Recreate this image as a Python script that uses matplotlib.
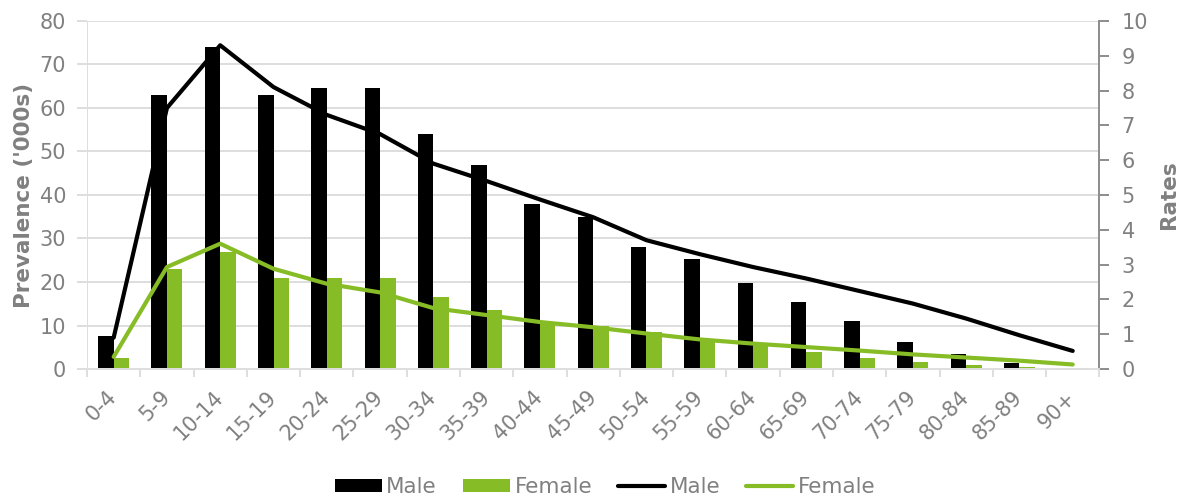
import matplotlib.pyplot as plt
import numpy as np

age_groups = ["0-4", "5-9", "10-14", "15-19", "20-24", "25-29", "30-34", "35-39",
              "40-44", "45-49", "50-54", "55-59", "60-64", "65-69", "70-74",
              "75-79", "80-84", "85-89", "90+"]

# prevalence ('000s)
male_prev = [7.5, 63, 74, 63, 64.5, 64.5, 54, 47, 38, 35, 28, 25.2, 19.8, 15.3,
             11, 6.2, 3.4, 1.4, 0.3]
female_prev = [2.5, 23, 27, 21, 21, 21, 16.5, 13.5, 10.5, 10, 8.5, 7, 6, 3.9,
               2.5, 1.6, 1.0, 0.5, 0.3]

# rates
male_rate = [0.9, 7.5, 9.3, 8.1, 7.3, 6.75, 5.9, 5.4, 4.87, 4.36, 3.7, 3.3,
             2.93, 2.6, 2.24, 1.88, 1.45, 0.97, 0.52]
female_rate = [0.35, 2.93, 3.6, 2.88, 2.45, 2.2, 1.75, 1.55, 1.35, 1.2, 1.02,
               0.85, 0.73, 0.63, 0.53, 0.42, 0.33, 0.24, 0.13]

black = "#000000"
green = "#86bc25"
grey = "#808080"
light = "#dedede"

fig = plt.figure(figsize=(11.84, 4.98), dpi=100)
ax = fig.add_axes([0.0735, 0.259, 0.855, 0.699])
ax2 = ax.twinx()

x = np.arange(len(age_groups))
w = 0.29
ax.bar(x - w / 2, male_prev, w, color=black, label="Male", zorder=2)
ax.bar(x + w / 2, female_prev, w, color=green, label="Female", zorder=2)
ax2.plot(x, male_rate, color=black, lw=3.0, label="Male", solid_capstyle="round")
ax2.plot(x, female_rate, color=green, lw=3.0, label="Female", solid_capstyle="round")

ax.set_xlim(-0.5, len(age_groups) - 0.5)
ax.set_ylim(0, 80)
ax2.set_ylim(0, 10)
ax.set_yticks(range(0, 81, 10))
ax2.set_yticks(range(0, 11, 1))

ax.yaxis.grid(True, color=light, lw=1.4, zorder=0)
ax.set_axisbelow(True)

# x axis: ticks on category boundaries, labels at centres
ax.set_xticks(x)
ax.set_xticklabels(age_groups, rotation=45, ha="right", va="center",
                   rotation_mode="anchor")
ax.set_xticks(np.arange(-0.5, len(age_groups), 1), minor=True)
ax.tick_params(axis="x", which="major", length=0, pad=18, labelsize=15, labelcolor=grey)
ax.tick_params(axis="x", which="minor", length=6, color=light, width=1.4)
ax.tick_params(axis="y", length=7, color=light, width=1.4, pad=8,
               labelsize=15, labelcolor=grey)
ax2.tick_params(axis="y", length=7, color="#8c8c8c", width=1.4, pad=9,
                labelsize=15, labelcolor=grey)

for a in (ax, ax2):
    a.spines["top"].set_visible(False)
    a.spines["left"].set_visible(False)
    a.spines["right"].set_visible(False)
    a.spines["bottom"].set_color(light)
    a.spines["bottom"].set_linewidth(1.4)
ax2.spines["right"].set_visible(True)
ax2.spines["right"].set_color("#8c8c8c")
ax2.spines["right"].set_linewidth(1.4)
ax.axvline(-0.5, color=light, lw=1.4, zorder=0)

ax.set_ylabel("Prevalence ('000s)", fontsize=15.5, fontweight="bold", color=grey, labelpad=4)
ax2.set_ylabel("Rates", fontsize=15.5, fontweight="bold", color=grey, rotation=90, labelpad=8)

h1, l1 = ax.get_legend_handles_labels()
h2, l2 = ax2.get_legend_handles_labels()
leg = fig.legend(h1 + h2, l1 + l2, loc="center", ncol=4, frameon=False,
                 fontsize=15.5, bbox_to_anchor=(0.511, 0.022), handlelength=2.2,
                 handleheight=0.56, columnspacing=1.2, handletextpad=0.2)
for t in leg.get_texts():
    t.set_color(grey)

fig.savefig("out.png", dpi=100)
